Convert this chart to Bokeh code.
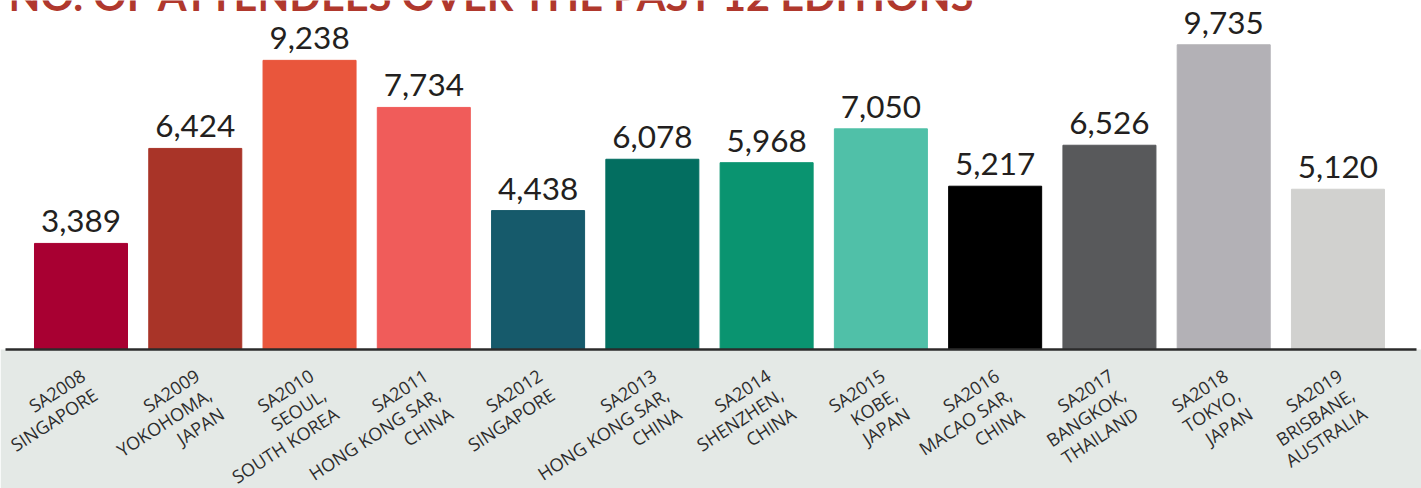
import math
from bokeh.plotting import figure
from bokeh.models import Range1d, BoxAnnotation, ColumnDataSource
from bokeh.core.properties import value
from bokeh.embed import file_html
from bokeh.resources import INLINE

# ---- data ----
title_text = "NO. OF ATTENDEES OVER THE PAST 12 EDITIONS"
categories = [
    "SA2008\nSINGAPORE",
    "SA2009\nYOKOHOMA,\nJAPAN",
    "SA2010\nSEOUL,\nSOUTH KOREA",
    "SA2011\nHONG KONG SAR,\nCHINA",
    "SA2012\nSINGAPORE",
    "SA2013\nHONG KONG SAR,\nCHINA",
    "SA2014\nSHENZHEN,\nCHINA",
    "SA2015\nKOBE,\nJAPAN",
    "SA2016\nMACAO SAR,\nCHINA",
    "SA2017\nBANGKOK,\nTHAILAND",
    "SA2018\nTOKYO,\nJAPAN",
    "SA2019\nBRISBANE,\nAUSTRALIA",
]
attendees = [3389, 6424, 9238, 7734, 4438, 6078, 5968, 7050, 5217, 6526, 9735, 5120]
bar_colors = ["#a80032", "#a93428", "#e9563c", "#f05c5a", "#165a6b", "#036e60",
              "#0a9470", "#50c0a8", "#000000", "#58595b", "#b3b1b6", "#d1d1cf"]

# ---- layout ----
W, H = 1421, 488
pitch = 114.27          # px per category
first_center = 80.5     # px
base_px = 349           # px from top to baseline
ys = 0.0313             # px per attendee

x0 = -first_center / pitch
x1 = (W - first_center) / pitch
y1 = base_px / ys
y0 = -(H - base_px) / ys

idx = list(range(len(categories)))
labels = [f"{v:,}" for v in attendees]

src = ColumnDataSource(dict(x=idx, top=attendees, color=bar_colors, label=labels))

p = figure(width=W, height=H, output_backend="svg", toolbar_location=None,
           x_range=Range1d(x0, x1), y_range=Range1d(y0, y1),
           min_border=0, min_border_left=0, min_border_right=0,
           min_border_top=0, min_border_bottom=0)
p.axis.visible = False
p.grid.visible = False
p.outline_line_color = None
p.background_fill_color = "white"
p.border_fill_color = "white"

p.add_layout(BoxAnnotation(top=0, fill_color="#e4e9e6", fill_alpha=1.0,
                           line_alpha=0, level="underlay"))

p.vbar(x="x", top="top", bottom=0, width=0.814, color="color", source=src)

p.segment(x0=[(5 - first_center) / pitch], x1=[(1416 - first_center) / pitch],
          y0=[0], y1=[0], line_color="#2b2b2b", line_width=2.5)

# value labels
p.text(x="x", y="top", text="label", source=src, text_align="center",
       text_baseline="alphabetic", y_offset=-22,
       text_font=value("Lato"), text_font_size="31.5px", text_color="#231f20")

# category labels: one rotated glyph per line, lines right-aligned
ang = math.radians(33)
line_gap = 22.8
lx, ly, lt, lxo, lyo = [], [], [], [], []
for i, cat in zip(idx, categories):
    for k, line in enumerate(cat.split("\n")):
        lx.append(i + 2 / pitch)
        ly.append(-(373 - base_px) / ys)
        lt.append(line)
        lxo.append(k * line_gap * math.sin(ang))
        lyo.append(k * line_gap * math.cos(ang))
cat_src = ColumnDataSource(dict(x=lx, y=ly, t=lt, xo=lxo, yo=lyo))
p.text(x="x", y="y", text="t", source=cat_src, angle=ang,
       x_offset="xo", y_offset="yo",
       text_align="right", text_baseline="alphabetic",
       text_font=value("Open Sans"), text_font_size="18px", text_color="#2d2d2d")

# title (cut at top of image)
p.text(x=[(8 - first_center) / pitch], y=[(base_px - 10) / ys], text=[title_text],
       text_align="left", text_baseline="alphabetic", y_offset=-16,
       text_font=value("Lato"), text_font_style="bold", text_font_size="41.5px",
       text_color="#b0382d")

open("out.html", "w").write(file_html(p, INLINE))
